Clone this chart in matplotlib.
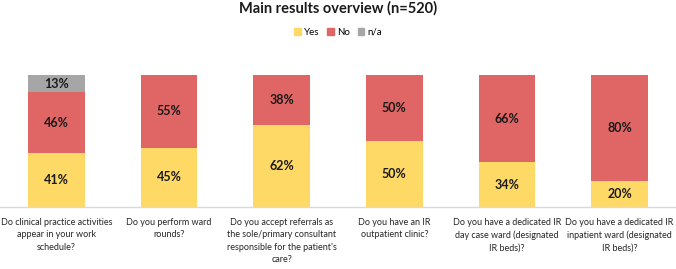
import matplotlib
matplotlib.use("Agg")
import matplotlib.pyplot as plt
from matplotlib.patches import Patch

plt.rcParams['font.family'] = ['Lato', 'DejaVu Sans']

categories = [
    "Do clinical practice activities\nappear in your work\nschedule?",
    "Do you perform ward\nrounds?",
    "Do you accept referrals as\nthe sole/primary consultant\nresponsible for the patient's\ncare?",
    "Do you have an IR\noutpatient clinic?",
    "Do you have a dedicated IR\nday case ward (designated\nIR beds)?",
    "Do you have a dedicated IR\ninpatient ward (designated\nIR beds)?",
]
yes = [41, 45, 62, 50, 34, 20]
no = [46, 55, 38, 50, 66, 80]
na = [13, 0, 0, 0, 0, 0]

c_yes = "#FFD966"
c_no = "#E06666"
c_na = "#A6A6A6"

fig = plt.figure(figsize=(6.76, 2.69), dpi=100)
ax = fig.add_axes([0.0, 0.23, 1.0, 0.491])
x = range(len(categories))
w = 0.505
ax.bar(x, yes, w, color=c_yes)
ax.bar(x, no, w, bottom=yes, color=c_no)
bottom2 = [a + b for a, b in zip(yes, no)]
ax.bar(x, na, w, bottom=bottom2, color=c_na)

for i in x:
    ax.text(i, yes[i] / 2, f"{yes[i]}%", ha="center", va="center", fontsize=9, fontweight="bold", color="#1a1a1a")
    ax.text(i, yes[i] + no[i] / 2, f"{no[i]}%", ha="center", va="center", fontsize=9, fontweight="bold", color="#1a1a1a")
    if na[i] > 0:
        ax.text(i, bottom2[i] + na[i] / 2, f"{na[i]}%", ha="center", va="center", fontsize=9, fontweight="bold", color="#1a1a1a")

ax.set_xlim(-0.5, len(categories) - 0.5)
ax.set_ylim(0, 100)
ax.set_yticks([])
ax.set_xticks(list(x))
ax.set_xticklabels(categories, fontsize=6.5, color="#262626", linespacing=1.45, va="top")
ax.tick_params(axis="x", length=0, pad=8)
for s in ["top", "right", "left"]:
    ax.spines[s].set_visible(False)
ax.spines["bottom"].set_color("#D9D9D9")
ax.spines["bottom"].set_linewidth(1.0)

fig.text(0.5, 0.968, "Main results overview (n=520)", ha="center", va="center", fontsize=10.5, fontweight="bold", color="#1a1a1a")
handles = [Patch(color=c_yes, label="Yes"), Patch(color=c_no, label="No"), Patch(color=c_na, label="n/a")]
fig.legend(handles=handles, loc="center", bbox_to_anchor=(0.5, 0.881), ncol=3, frameon=False,
           fontsize=7, handlelength=0.7, handleheight=0.7, handletextpad=0.3, columnspacing=0.8)

fig.savefig("out.png", dpi=100)
